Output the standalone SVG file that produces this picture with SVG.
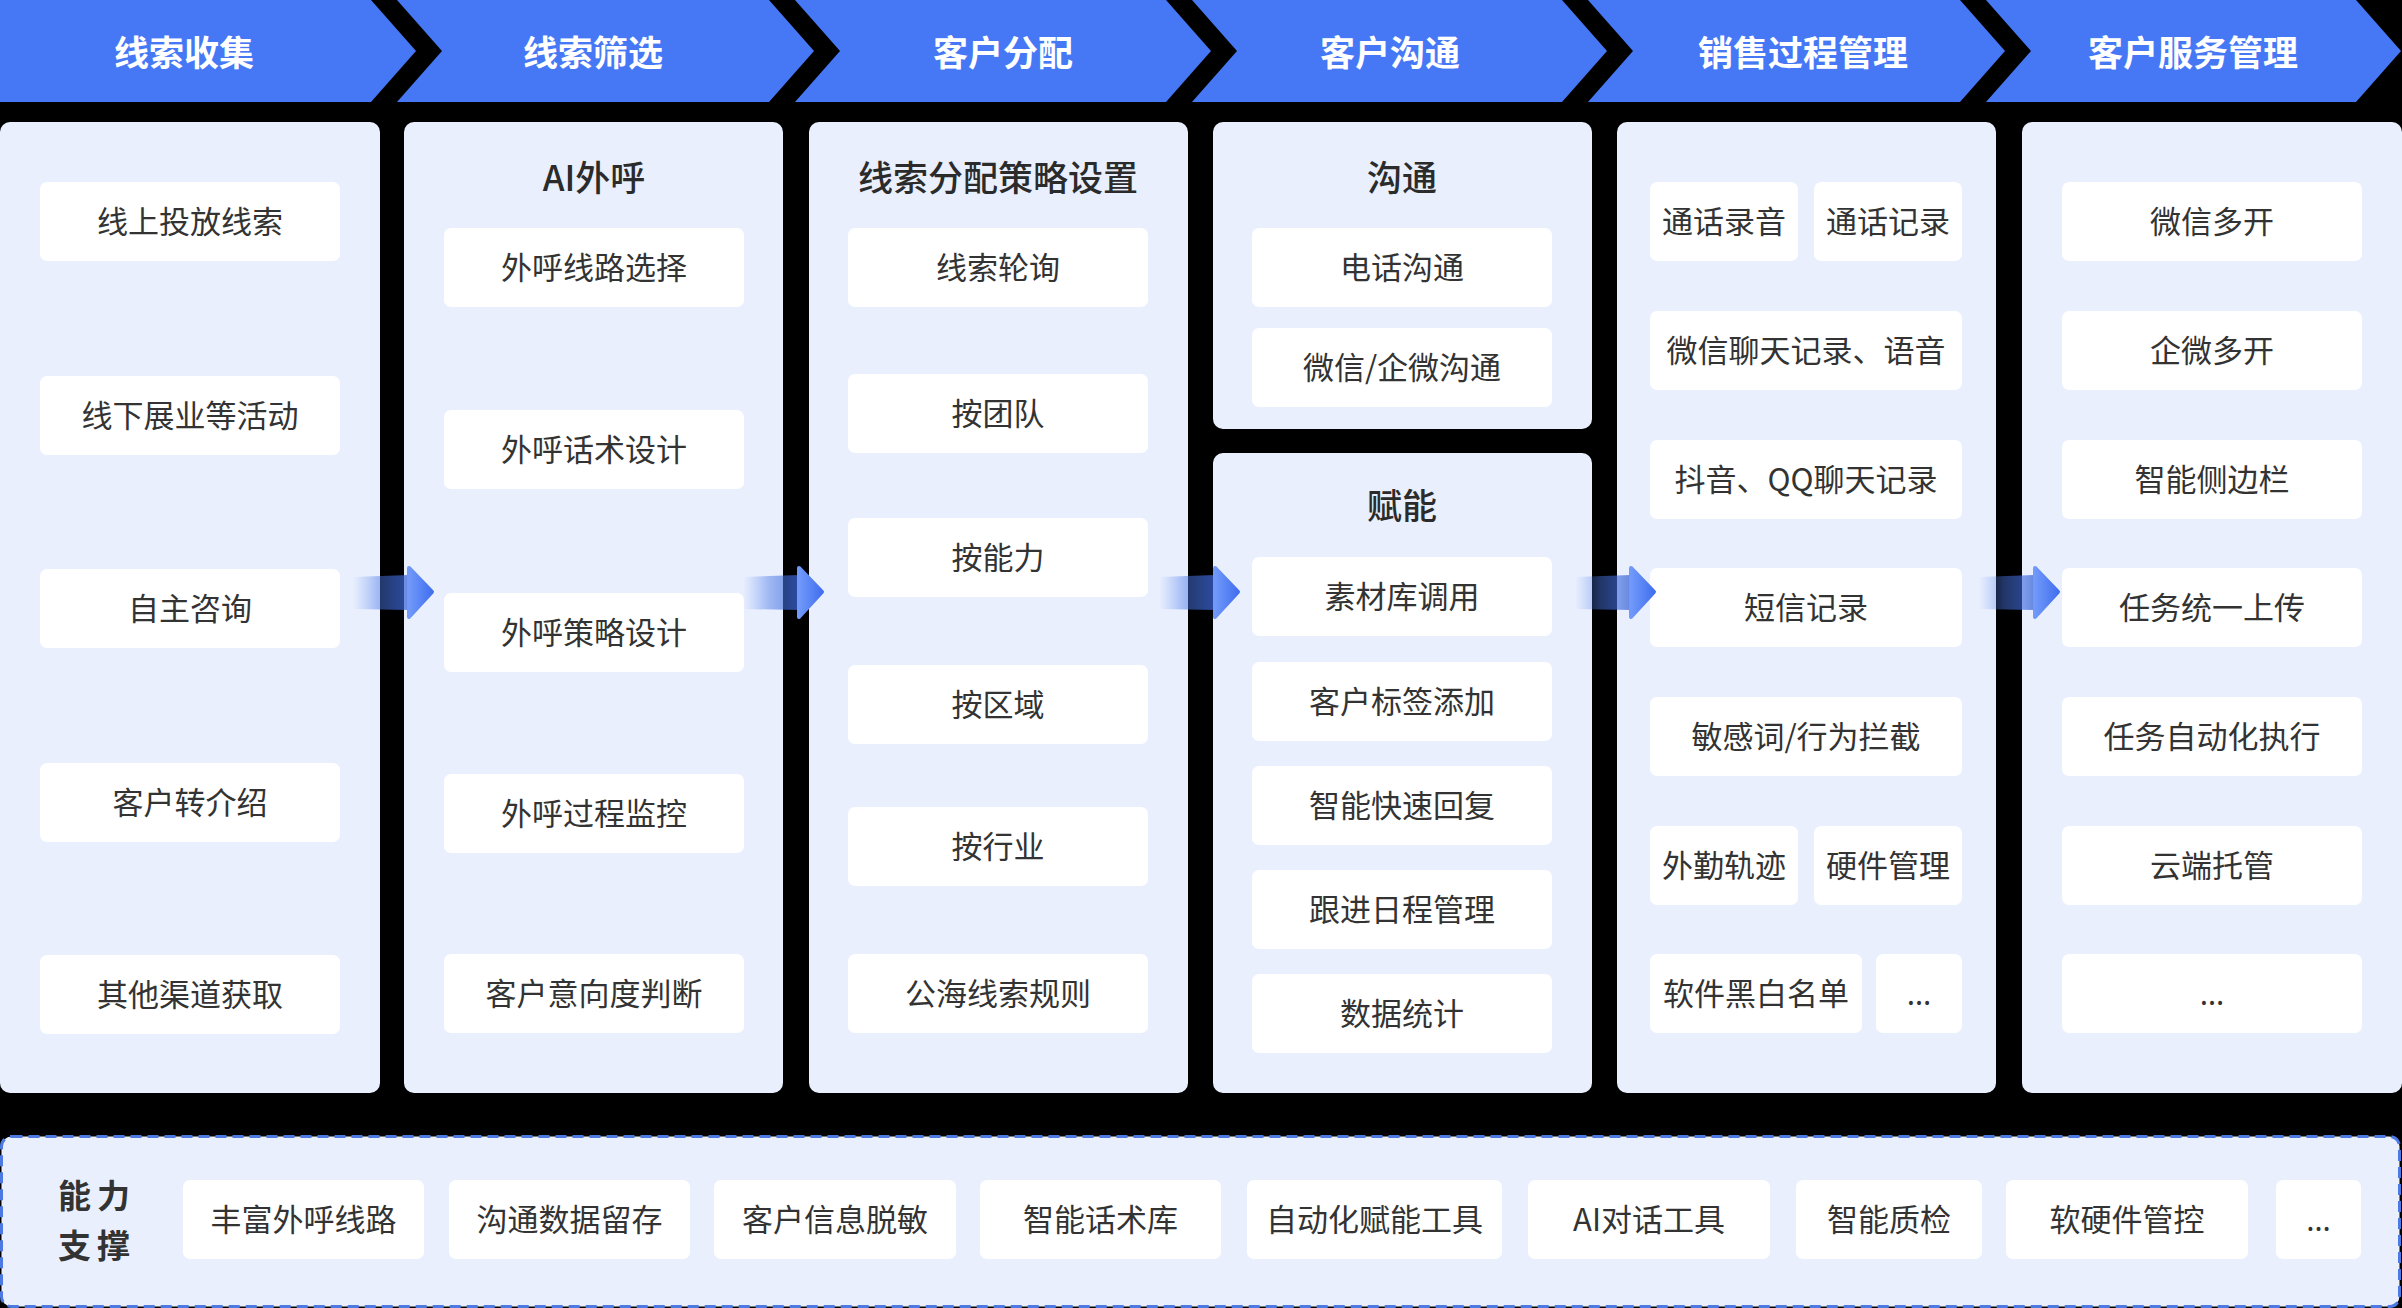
<svg xmlns="http://www.w3.org/2000/svg" width="2402" height="1308" viewBox="0 0 2402 1308">
<defs>
<style>
.hdr{fill:#4678F6}
.htx{font-family:"Noto Sans CJK SC","Noto Sans",sans-serif;font-size:35px;font-weight:700;fill:#FFFFFF;text-anchor:middle}
.pnl{fill:#E9EFFD}
.itm{fill:#FFFFFF}
.tx{font-family:"Noto Sans CJK SC","Noto Sans",sans-serif;font-size:31px;fill:#333333;text-anchor:middle}
.dots{font-family:"Noto Sans","Liberation Sans",sans-serif;font-size:31px;fill:#333333;text-anchor:middle}
.ttl{font-family:"Noto Sans CJK SC","Noto Sans",sans-serif;font-size:35px;font-weight:500;fill:#2B2B2B;text-anchor:middle}
.cap{font-family:"Noto Sans CJK SC","Noto Sans",sans-serif;font-size:33px;font-weight:700;fill:#333333;text-anchor:middle;letter-spacing:6px}
.dash{fill:#E9EFFD;stroke:#4C79E2;stroke-width:3;stroke-dasharray:11 6}
.abody{fill:url(#gBody)}
.ahead{fill:url(#gHead);stroke:url(#gHead);stroke-width:4;stroke-linejoin:round}
</style>
<linearGradient id="gBody" x1="0" y1="0" x2="1" y2="0">
<stop offset="0" stop-color="#5A88F5" stop-opacity="0"/>
<stop offset="0.45" stop-color="#4A78E8" stop-opacity="0.45"/>
<stop offset="1" stop-color="#3A64D6" stop-opacity="0.75"/>
</linearGradient>
<linearGradient id="gHead" x1="0" y1="0" x2="1" y2="0">
<stop offset="0" stop-color="#7199FA"/>
<stop offset="1" stop-color="#4270EE"/>
</linearGradient>
</defs>
<rect x="0" y="0" width="2402" height="1308" fill="#000000"/>

<g id="header">
<polygon class="hdr" points="0,0 371,0 416,51 371,102 0,102"/>
<polygon class="hdr" points="397,0 769,0 814,51 769,102 397,102 442,51"/>
<polygon class="hdr" points="795,0 1166,0 1211,51 1166,102 795,102 840,51"/>
<polygon class="hdr" points="1192,0 1562,0 1607,51 1562,102 1192,102 1237,51"/>
<polygon class="hdr" points="1588,0 1960,0 2005,51 1960,102 1588,102 1633,51"/>
<polygon class="hdr" points="1986,0 2356,0 2401,51 2356,102 1986,102 2031,51"/>
<text class="htx" x="184" y="66">线索收集</text>
<text class="htx" x="593" y="66">线索筛选</text>
<text class="htx" x="1003" y="66">客户分配</text>
<text class="htx" x="1390" y="66">客户沟通</text>
<text class="htx" x="1803" y="66">销售过程管理</text>
<text class="htx" x="2193" y="66">客户服务管理</text>
</g>

<g id="panel-collect">
<rect class="pnl" x="0" y="122" width="380" height="971" rx="10"/>
<rect class="itm" x="40" y="182" width="300" height="79" rx="7"/>
<text class="tx" x="190" y="233">线上投放线索</text>
<rect class="itm" x="40" y="376" width="300" height="79" rx="7"/>
<text class="tx" x="190" y="427">线下展业等活动</text>
<rect class="itm" x="40" y="569" width="300" height="79" rx="7"/>
<text class="tx" x="190" y="620">自主咨询</text>
<rect class="itm" x="40" y="763" width="300" height="79" rx="7"/>
<text class="tx" x="190" y="814">客户转介绍</text>
<rect class="itm" x="40" y="955" width="300" height="79" rx="7"/>
<text class="tx" x="190" y="1006">其他渠道获取</text>
</g>

<g id="panel-filter">
<rect class="pnl" x="404" y="122" width="379" height="971" rx="10"/>
<text class="ttl" x="594" y="191">AI外呼</text>
<rect class="itm" x="444" y="228" width="300" height="79" rx="7"/>
<text class="tx" x="594" y="279">外呼线路选择</text>
<rect class="itm" x="444" y="410" width="300" height="79" rx="7"/>
<text class="tx" x="594" y="461">外呼话术设计</text>
<rect class="itm" x="444" y="593" width="300" height="79" rx="7"/>
<text class="tx" x="594" y="644">外呼策略设计</text>
<rect class="itm" x="444" y="774" width="300" height="79" rx="7"/>
<text class="tx" x="594" y="825">外呼过程监控</text>
<rect class="itm" x="444" y="954" width="300" height="79" rx="7"/>
<text class="tx" x="594" y="1005">客户意向度判断</text>
</g>

<g id="panel-assign">
<rect class="pnl" x="809" y="122" width="379" height="971" rx="10"/>
<text class="ttl" x="998" y="191">线索分配策略设置</text>
<rect class="itm" x="848" y="228" width="300" height="79" rx="7"/>
<text class="tx" x="998" y="279">线索轮询</text>
<rect class="itm" x="848" y="374" width="300" height="79" rx="7"/>
<text class="tx" x="998" y="425">按团队</text>
<rect class="itm" x="848" y="518" width="300" height="79" rx="7"/>
<text class="tx" x="998" y="569">按能力</text>
<rect class="itm" x="848" y="665" width="300" height="79" rx="7"/>
<text class="tx" x="998" y="716">按区域</text>
<rect class="itm" x="848" y="807" width="300" height="79" rx="7"/>
<text class="tx" x="998" y="858">按行业</text>
<rect class="itm" x="848" y="954" width="300" height="79" rx="7"/>
<text class="tx" x="998" y="1005">公海线索规则</text>
</g>

<g id="panel-communicate">
<rect class="pnl" x="1213" y="122" width="379" height="307" rx="10"/>
<text class="ttl" x="1402" y="191">沟通</text>
<rect class="itm" x="1252" y="228" width="300" height="79" rx="7"/>
<text class="tx" x="1402" y="279">电话沟通</text>
<rect class="itm" x="1252" y="328" width="300" height="79" rx="7"/>
<text class="tx" x="1402" y="379">微信/企微沟通</text>
</g>

<g id="panel-empower">
<rect class="pnl" x="1213" y="453" width="379" height="640" rx="10"/>
<text class="ttl" x="1402" y="519">赋能</text>
<rect class="itm" x="1252" y="557" width="300" height="79" rx="7"/>
<text class="tx" x="1402" y="608">素材库调用</text>
<rect class="itm" x="1252" y="662" width="300" height="79" rx="7"/>
<text class="tx" x="1402" y="713">客户标签添加</text>
<rect class="itm" x="1252" y="766" width="300" height="79" rx="7"/>
<text class="tx" x="1402" y="817">智能快速回复</text>
<rect class="itm" x="1252" y="870" width="300" height="79" rx="7"/>
<text class="tx" x="1402" y="921">跟进日程管理</text>
<rect class="itm" x="1252" y="974" width="300" height="79" rx="7"/>
<text class="tx" x="1402" y="1025">数据统计</text>
</g>

<g id="panel-sales">
<rect class="pnl" x="1617" y="122" width="379" height="971" rx="10"/>
<rect class="itm" x="1650" y="182" width="148" height="79" rx="7"/>
<text class="tx" x="1724" y="233">通话录音</text>
<rect class="itm" x="1814" y="182" width="148" height="79" rx="7"/>
<text class="tx" x="1888" y="233">通话记录</text>
<rect class="itm" x="1650" y="311" width="312" height="79" rx="7"/>
<text class="tx" x="1806" y="362">微信聊天记录、语音</text>
<rect class="itm" x="1650" y="440" width="312" height="79" rx="7"/>
<text class="tx" x="1806" y="491">抖音、QQ聊天记录</text>
<rect class="itm" x="1650" y="568" width="312" height="79" rx="7"/>
<text class="tx" x="1806" y="619">短信记录</text>
<rect class="itm" x="1650" y="697" width="312" height="79" rx="7"/>
<text class="tx" x="1806" y="748">敏感词/行为拦截</text>
<rect class="itm" x="1650" y="826" width="148" height="79" rx="7"/>
<text class="tx" x="1724" y="877">外勤轨迹</text>
<rect class="itm" x="1814" y="826" width="148" height="79" rx="7"/>
<text class="tx" x="1888" y="877">硬件管理</text>
<rect class="itm" x="1650" y="954" width="212" height="79" rx="7"/>
<text class="tx" x="1756" y="1005">软件黑白名单</text>
<rect class="itm" x="1876" y="954" width="86" height="79" rx="7"/>
<text class="dots" x="1919" y="1005">…</text>
</g>

<g id="panel-service">
<rect class="pnl" x="2022" y="122" width="380" height="971" rx="10"/>
<rect class="itm" x="2062" y="182" width="300" height="79" rx="7"/>
<text class="tx" x="2212" y="233">微信多开</text>
<rect class="itm" x="2062" y="311" width="300" height="79" rx="7"/>
<text class="tx" x="2212" y="362">企微多开</text>
<rect class="itm" x="2062" y="440" width="300" height="79" rx="7"/>
<text class="tx" x="2212" y="491">智能侧边栏</text>
<rect class="itm" x="2062" y="568" width="300" height="79" rx="7"/>
<text class="tx" x="2212" y="619">任务统一上传</text>
<rect class="itm" x="2062" y="697" width="300" height="79" rx="7"/>
<text class="tx" x="2212" y="748">任务自动化执行</text>
<rect class="itm" x="2062" y="826" width="300" height="79" rx="7"/>
<text class="tx" x="2212" y="877">云端托管</text>
<rect class="itm" x="2062" y="954" width="300" height="79" rx="7"/>
<text class="dots" x="2212" y="1005">…</text>
</g>

<g id="connectors">
<polygon class="abody" points="353,577 409,575 409,610 353,609"/>
<polygon class="ahead" points="409,568 432,592 409,617"/>
<polygon class="abody" points="743,577 799,575 799,610 743,609"/>
<polygon class="ahead" points="799,568 822,592 799,617"/>
<polygon class="abody" points="1159,577 1215,575 1215,610 1159,609"/>
<polygon class="ahead" points="1215,568 1238,592 1215,617"/>
<polygon class="abody" points="1575,577 1631,575 1631,610 1575,609"/>
<polygon class="ahead" points="1631,568 1654,592 1631,617"/>
<polygon class="abody" points="1979,577 2035,575 2035,610 1979,609"/>
<polygon class="ahead" points="2035,568 2058,592 2035,617"/>
</g>

<g id="capability">
<rect class="dash" x="1.5" y="1136.5" width="2398" height="170" rx="10"/>
<text class="cap" x="97" y="1208">能力</text>
<text class="cap" x="97" y="1258">支撑</text>
<rect class="itm" x="183" y="1180" width="241" height="79" rx="7"/>
<text class="tx" x="303.5" y="1231">丰富外呼线路</text>
<rect class="itm" x="449" y="1180" width="241" height="79" rx="7"/>
<text class="tx" x="569.5" y="1231">沟通数据留存</text>
<rect class="itm" x="714" y="1180" width="242" height="79" rx="7"/>
<text class="tx" x="835" y="1231">客户信息脱敏</text>
<rect class="itm" x="980" y="1180" width="241" height="79" rx="7"/>
<text class="tx" x="1100.5" y="1231">智能话术库</text>
<rect class="itm" x="1247" y="1180" width="255" height="79" rx="7"/>
<text class="tx" x="1374.5" y="1231">自动化赋能工具</text>
<rect class="itm" x="1528" y="1180" width="242" height="79" rx="7"/>
<text class="tx" x="1649" y="1231">AI对话工具</text>
<rect class="itm" x="1796" y="1180" width="186" height="79" rx="7"/>
<text class="tx" x="1889" y="1231">智能质检</text>
<rect class="itm" x="2006" y="1180" width="242" height="79" rx="7"/>
<text class="tx" x="2127" y="1231">软硬件管控</text>
<rect class="itm" x="2276" y="1180" width="85" height="79" rx="7"/>
<text class="dots" x="2318.5" y="1231">…</text>
</g>
</svg>
